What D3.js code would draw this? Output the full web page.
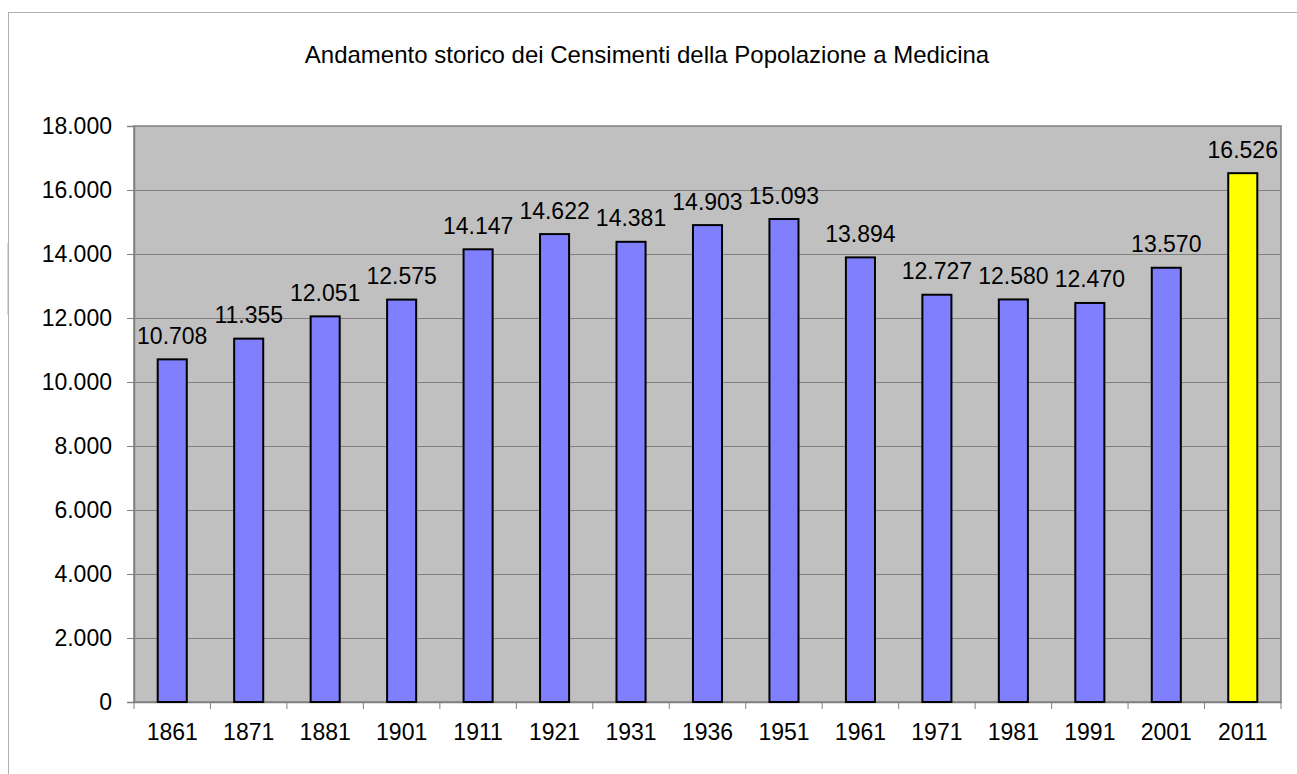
<!DOCTYPE html>
<html>
<head>
<meta charset="utf-8">
<script src="https://cdn.jsdelivr.net/npm/d3@7"></script>
<style>
  body { margin: 0; background: #fff; }
  text { font-family: "Liberation Sans", Arial, sans-serif; fill: #000; }
</style>
</head>
<body>
<svg id="chart" width="1297" height="774"></svg>
<script>
var anni = ["1861", "1871", "1881", "1901", "1911", "1921", "1931", "1936", "1951", "1961", "1971", "1981", "1991", "2001", "2011"];
var abitanti = [10708, 11355, 12051, 12575, 14147, 14622, 14381, 14903, 15093, 13894, 12727, 12580, 12470, 13570, 16526];
var yTicks = [0, 2000, 4000, 6000, 8000, 10000, 12000, 14000, 16000, 18000];
var titolo = "Andamento storico dei Censimenti della Popolazione a Medicina";

var plotLeft = 134, plotRight = 1281, plotTop = 126, plotBottom = 702;
var fontSize = 23;

var it = d3.formatLocale({decimal: ",", thousands: ".", grouping: [3], currency: ["", ""]});
var fmt = it.format(",d");

var svg = d3.select("#chart");

// cornice esterna del grafico
svg.append("rect")
   .attr("x", 8.5).attr("y", 12.5)
   .attr("width", 1320).attr("height", 800)
   .attr("fill", "#fff")
   .attr("stroke", "#b0b0b0")
   .attr("stroke-width", 1);
svg.append("line")
   .attr("x1", 7.5).attr("x2", 7.5).attr("y1", 243).attr("y2", 315)
   .attr("stroke", "#d8d8d8");

svg.append("text")
   .attr("x", 647).attr("y", 63)
   .attr("text-anchor", "middle")
   .style("font-size", "24px")
   .text(titolo);

var x = d3.scaleBand().domain(anni).range([plotLeft, plotRight]).padding(0);
var y = d3.scaleLinear().domain([0, 18000]).range([plotBottom, plotTop]);

// area del grafico
svg.append("rect")
   .attr("x", plotLeft).attr("y", plotTop)
   .attr("width", plotRight - plotLeft).attr("height", plotBottom - plotTop)
   .attr("fill", "#c0c0c0")
   .attr("stroke", "#808080")
   .attr("stroke-width", 1.5);

svg.append("g").selectAll("line")
   .data(yTicks.slice(1, -1))
   .join("line")
   .attr("x1", plotLeft).attr("x2", plotRight)
   .attr("y1", d => Math.round(y(d)) + 0.5).attr("y2", d => Math.round(y(d)) + 0.5)
   .attr("stroke", "#808080");

// asse y
var yAxis = svg.append("g")
   .attr("transform", `translate(${plotLeft},0)`)
   .call(d3.axisLeft(y).tickValues(yTicks).tickFormat(fmt).tickSize(7).tickPadding(15));
yAxis.select(".domain").attr("stroke", "#808080").attr("stroke-width", 1.5);
yAxis.selectAll(".tick line").attr("stroke", "#808080");
yAxis.selectAll(".tick text").style("font-size", fontSize + "px").attr("font-family", null);

// asse x: tacche ai bordi delle categorie
var xAxis = svg.append("g")
   .attr("transform", `translate(0,${plotBottom})`)
   .call(d3.axisBottom(x).tickSize(0).tickPadding(22));
xAxis.select(".domain").attr("stroke", "#808080").attr("stroke-width", 1.5);
xAxis.selectAll(".tick text").style("font-size", fontSize + "px").attr("font-family", null);
xAxis.selectAll(".edge")
   .data(anni.concat(["end"]))
   .join("line")
   .attr("class", "edge")
   .attr("x1", (d, i) => i < anni.length ? x(d) : plotRight)
   .attr("x2", (d, i) => i < anni.length ? x(d) : plotRight)
   .attr("y1", 0).attr("y2", 7)
   .attr("stroke", "#808080");

var bw = x.bandwidth() * 0.38;

svg.append("g").selectAll("rect")
   .data(abitanti)
   .join("rect")
   .attr("x", (d, i) => x(anni[i]) + x.bandwidth() / 2 - bw / 2)
   .attr("y", d => y(d))
   .attr("width", bw)
   .attr("height", d => plotBottom - y(d))
   .attr("fill", (d, i) => anni[i] === "2011" ? "#ffff00" : "#8080ff")
   .attr("stroke", "#000")
   .attr("stroke-width", 2);

svg.append("g").selectAll("text")
   .data(abitanti)
   .join("text")
   .attr("x", (d, i) => x(anni[i]) + x.bandwidth() / 2)
   .attr("y", d => y(d) - 15.5)
   .attr("text-anchor", "middle")
   .style("font-size", fontSize + "px")
   .text(d => fmt(d));
</script>
</body>
</html>
